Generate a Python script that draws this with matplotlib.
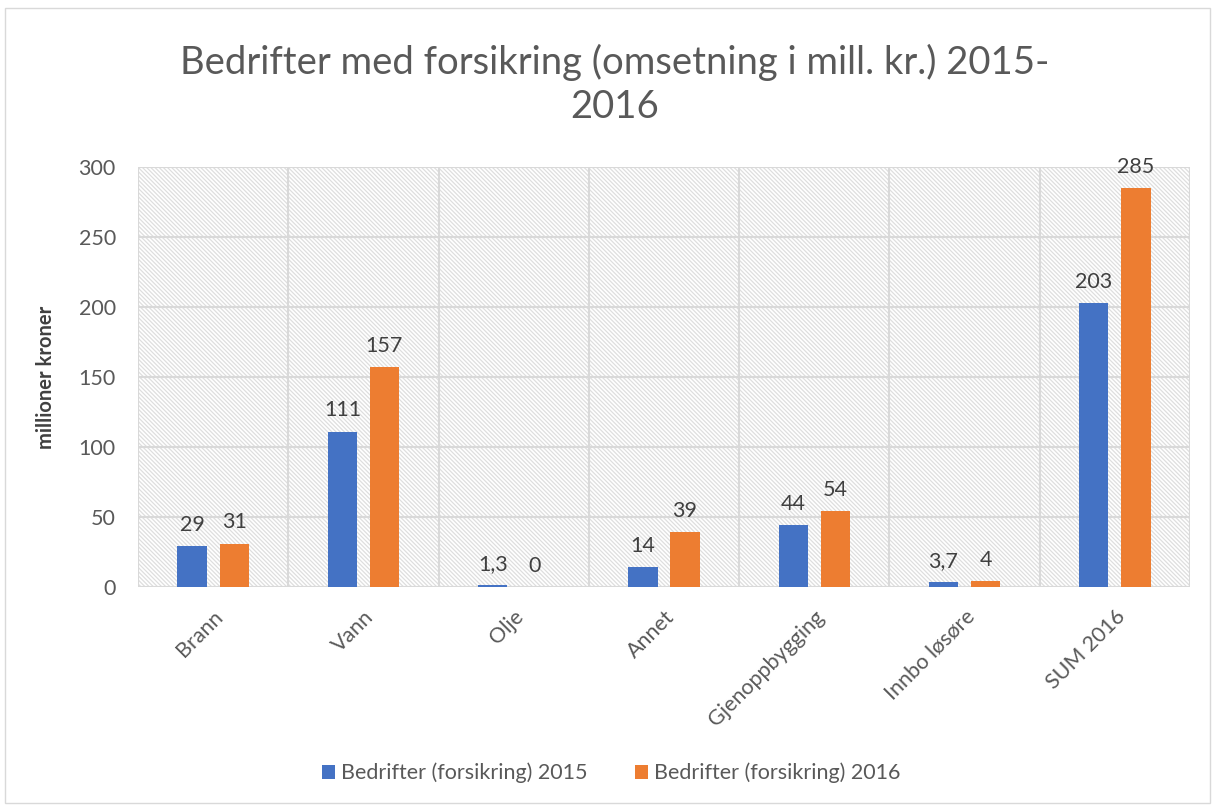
import matplotlib
matplotlib.use("Agg")
import matplotlib.pyplot as plt
import numpy as np
from matplotlib.patches import Rectangle

plt.rcParams['font.family'] = ['Lato', 'DejaVu Sans']
plt.rcParams['hatch.color'] = '#dedede'
plt.rcParams['hatch.linewidth'] = 0.9

categories = ["Brann", "Vann", "Olje", "Annet", "Gjenoppbygging", "Innbo løsøre", "SUM 2016"]
values_2015 = [29, 111, 1.3, 14, 44, 3.7, 203]
values_2016 = [31, 157, 0, 39, 54, 4, 285]
labels_2015 = ["29", "111", "1,3", "14", "44", "3,7", "203"]
labels_2016 = ["31", "157", "0", "39", "54", "4", "285"]
series_names = ["Bedrifter (forsikring) 2015", "Bedrifter (forsikring) 2016"]
yticks = [0, 50, 100, 150, 200, 250, 300]

blue = '#4472C4'
orange = '#ED7D31'
textc = '#595959'

fig = plt.figure(figsize=(12.15, 8.05), dpi=100)
ax = fig.add_axes([138/1215, 1-587/805, (1190-138)/1215, (587-167)/805])

# hatched background
bg = Rectangle((0, 0), 1, 1, transform=ax.transAxes, facecolor='white',
               edgecolor='#dedede', hatch='\\' * 8, linewidth=0, zorder=0)
ax.add_patch(bg)

x = np.arange(len(categories))
w = 0.195
off = 0.14
b1 = ax.bar(x - off, values_2015, w, color=blue, zorder=3, label=series_names[0])
b2 = ax.bar(x + off, values_2016, w, color=orange, zorder=3, label=series_names[1])

for xi, v, l in zip(x - off, values_2015, labels_2015):
    ax.text(xi, v + 8, l, ha='center', va='bottom', fontsize=15.5, color='#404040', zorder=4)
for xi, v, l in zip(x + off, values_2016, labels_2016):
    ax.text(xi, v + 8, l, ha='center', va='bottom', fontsize=15.5, color='#404040', zorder=4)

ax.set_xlim(-0.5, len(categories) - 0.5)
ax.set_ylim(0, 300)
ax.set_yticks(yticks)
ax.set_yticklabels([str(t) for t in yticks], fontsize=15.5, color=textc)
ax.set_xticks(x)
ax.set_xticklabels(categories, fontsize=15.5, color=textc, rotation=45, ha='right',
                   va='top', rotation_mode='anchor')
ax.tick_params(axis='y', length=0, pad=16)
ax.tick_params(axis='x', length=0, pad=14)

# grid
for t in yticks:
    ax.axhline(t, color='#d9d9d9', linewidth=1.5, zorder=1)
for b in np.arange(-0.5, len(categories), 1.0):
    ax.axvline(b, color='#d9d9d9', linewidth=1.5, zorder=1)
for s in ax.spines.values():
    s.set_visible(False)

ax.set_ylabel("millioner kroner", fontsize=14.5, fontweight='bold', color='#404040', labelpad=16)

fig.text(0.506, 1 - 62/805, "Bedrifter med forsikring (omsetning i mill. kr.) 2015-",
         ha='center', va='center', fontsize=27.5, color=textc)
fig.text(0.506, 1 - 107/805, "2016", ha='center', va='center', fontsize=27.5, color=textc)

leg = fig.legend(handles=[b1, b2], labels=series_names, loc='center',
                 bbox_to_anchor=(0.503, 1 - 773/805), ncol=2, frameon=False,
                 fontsize=15.5, handlelength=0.6, handleheight=0.6, columnspacing=2.2,
                 handletextpad=0.3)
for t in leg.get_texts():
    t.set_color(textc)

fig.patches.append(Rectangle((5/1215, 2/805), 1205/1215, 795/805, transform=fig.transFigure,
                             fill=False, edgecolor='#d9d9d9', linewidth=1))

fig.savefig("out.png", dpi=100)
